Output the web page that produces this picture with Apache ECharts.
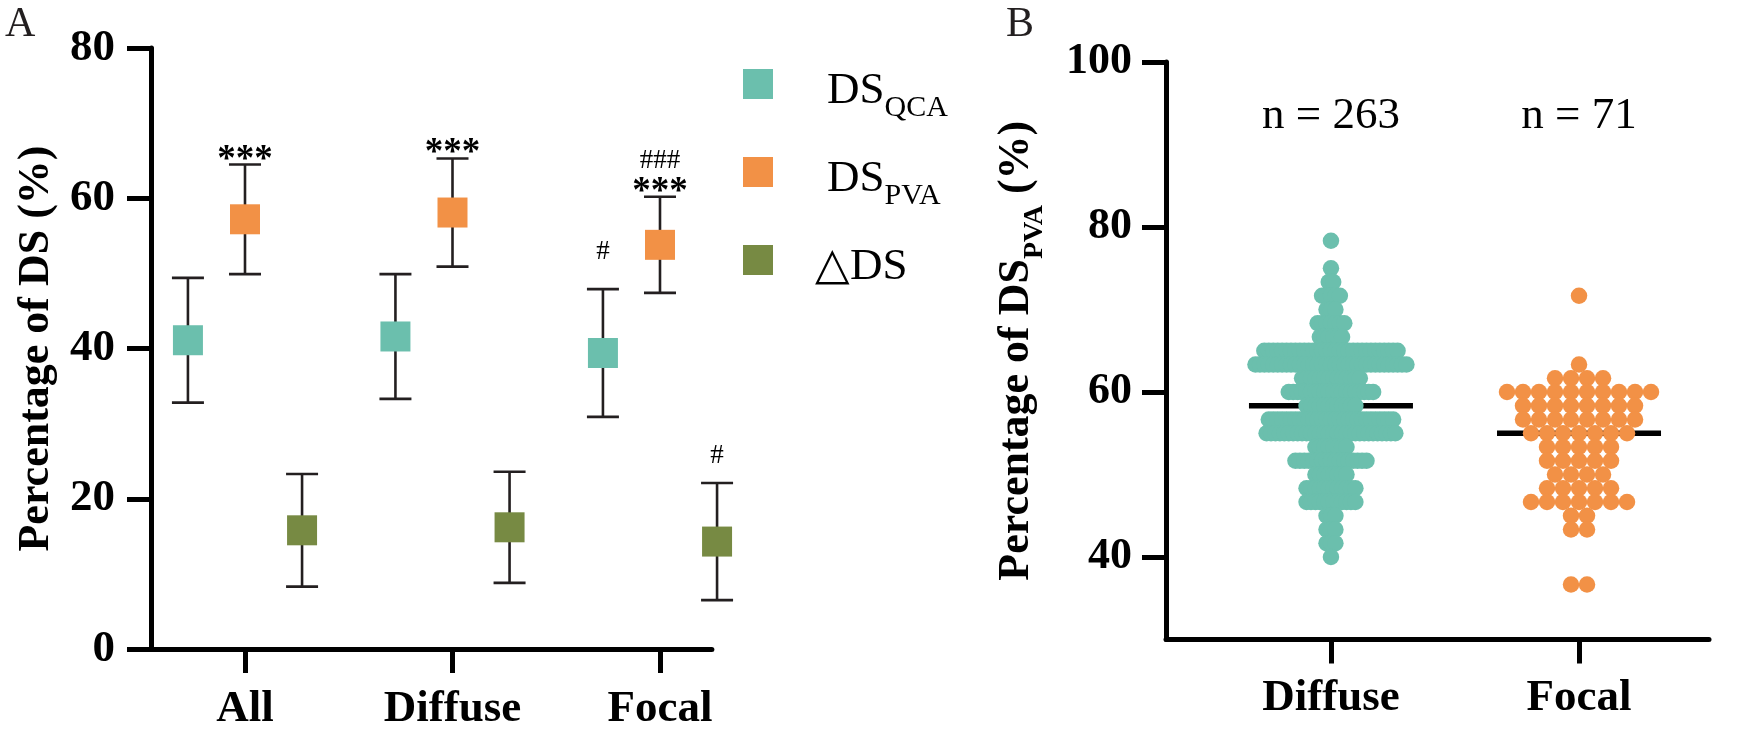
<!DOCTYPE html>
<html>
<head>
<meta charset="utf-8">
<script src="https://cdn.jsdelivr.net/npm/echarts@6/dist/echarts.min.js"></script>
<style>
html,body{margin:0;padding:0;background:#fff;}
#chart{width:1748px;height:732px;}
</style>
</head>
<body>
<div id="chart"></div>
<script>
// ---------- Panel A data (mean ± SD, %) ----------
const categoriesA = ['All', 'Diffuse', 'Focal'];
const qcaMean = [41.1, 41.6, 39.4];
const qcaSD   = [8.3, 8.3, 8.5];
const pvaMean = [57.2, 58.1, 53.8];
const pvaSD   = [7.3, 7.2, 6.4];
const dMean   = [15.8, 16.2, 14.3];
const dSD     = [7.5, 7.4, 7.8];
const pvaStars = ['***', '***', '***'];
const pvaHash  = ['', '', '###'];
const qcaHash  = ['', '', '#'];
const dHash    = ['', '', '#'];
const yTicksA  = [0, 20, 40, 60, 80];

// ---------- Panel B data (DS_PVA %, value levels and number of lesions at each) ----------
const categoriesB = ['Diffuse', 'Focal'];
const levelsDiffuse = [78.33, 75.00, 73.33, 71.67, 70.00, 68.33, 66.67, 65.00, 63.33, 61.67, 60.00, 58.33, 56.67, 55.00, 53.33, 51.67, 50.00, 48.33, 46.67, 45.00, 43.33, 41.67, 40.00];
const countsDiffuse = [1, 1, 2, 5, 3, 7, 6, 31, 35, 14, 20, 12, 29, 30, 8, 17, 8, 12, 12, 3, 3, 3, 1];
const levelsFocal = [71.67, 63.33, 61.67, 60.00, 58.33, 56.67, 55.00, 53.33, 51.67, 50.00, 48.33, 46.67, 45.00, 43.33, 36.67];
const countsFocal = [1, 1, 4, 10, 8, 8, 7, 5, 5, 4, 5, 7, 2, 2, 2];
const yTicksB = [40, 60, 80, 100];

// ---------- styling ----------
const FONT = 'Liberation Serif, Times New Roman, serif';
const C_QCA = '#6bbfad', C_PVA = '#f29146', C_D = '#778a43';
const BAR = '#231f20';

// Panel A layout (x value axis: category index)
const axA = {min: -0.453, max: 2.25};
const gridA = {left: 151, top: 48, bottom: 82};
const unitA = 207.5;
const offA = 0.275;
// Panel B layout
const axB = {min: 0.335, max: 2.524};
const gridB = {left: 1166, right: 39, top: 62, bottom: 92.5};
const unitB = (1748 - gridB.left - gridB.right) / (axB.max - axB.min);
const spacingDiffusePx = 4.44, spacingFocalPx = 16;

function swarm(levels, counts, cat, spacingPx) {
  const pts = [];
  levels.forEach((v, i) => {
    const n = counts[i];
    for (let j = 0; j < n; j++) {
      pts.push([cat + (j - (n - 1) / 2) * spacingPx / unitB, v]);
    }
  });
  return pts;
}
function median(levels, counts) {
  const vals = [];
  levels.forEach((v, i) => { for (let j = 0; j < counts[i]; j++) vals.push(v); });
  vals.sort((a, b) => a - b);
  const n = vals.length;
  return n % 2 ? vals[(n - 1) / 2] : (vals[n / 2 - 1] + vals[n / 2]) / 2;
}
const sum = a => a.reduce((s, x) => s + x, 0);

function pointData(means, off) { return means.map((m, i) => [i + off, m]); }
function errData(means, sds, off) { return means.map((m, i) => [i + off, m - sds[i], m + sds[i]]); }
function annData(means, sds, texts, off) {
  return means.map((m, i) => ({value: [i + off, m + sds[i]], txt: texts[i]})).filter(d => d.txt);
}

function errRender(params, api) {
  const x = api.value(0), lo = api.value(1), hi = api.value(2);
  const pt = api.coord([x, hi]), pb = api.coord([x, lo]);
  const hw = 16;
  const st = {stroke: BAR, lineWidth: 2.6};
  return {type: 'group', children: [
    {type: 'line', shape: {x1: pt[0], y1: pt[1], x2: pb[0], y2: pb[1]}, style: st},
    {type: 'line', shape: {x1: pt[0] - hw, y1: pt[1], x2: pt[0] + hw, y2: pt[1]}, style: st},
    {type: 'line', shape: {x1: pb[0] - hw, y1: pb[1], x2: pb[0] + hw, y2: pb[1]}, style: st}
  ]};
}
function medRender(params, api) {
  const p = api.coord([api.value(0), api.value(1)]);
  return {type: 'line', shape: {x1: p[0] - 82, y1: p[1], x2: p[0] + 82, y2: p[1]},
          style: {stroke: '#000', lineWidth: 5.5}};
}

function annSeries(data, size, weight, offY) {
  return {
    type: 'scatter', xAxisIndex: 0, yAxisIndex: 0, symbolSize: 0, silent: true, z: 5, clip: false,
    itemStyle: {opacity: 1},
    data: data,
    label: {show: true, position: 'top', distance: 0, offset: [0, offY],
      formatter: p => p.data.txt, color: '#000', fontFamily: FONT, fontSize: size, fontWeight: weight}
  };
}

const axisLineStyle = {color: '#000', width: 5};
const tickStyle = {width: 5, color: '#000'};

const chart = echarts.init(document.getElementById('chart'));
const option = {
  animation: false,
  backgroundColor: '#fff',
  textStyle: {fontFamily: FONT, color: '#000'},
  graphic: [
    {type: 'text', left: 5, top: 4, style: {text: 'A', fontFamily: FONT, fontSize: 42, fill: BAR}},
    {type: 'text', left: 1006, top: 4, style: {text: 'B', fontFamily: FONT, fontSize: 42, fill: BAR}}
  ],
  legend: {
    data: ['DS_QCA', 'DS_PVA', 'ΔDS'],
    orient: 'vertical', left: 743, top: 69, padding: 0,
    itemWidth: 30, itemHeight: 30, itemGap: 34,
    icon: 'rect', selectedMode: false,
    formatter: name => name === 'ΔDS' ? '{t|△DS}{s| }' : '{m|DS}{s|' + name.slice(3) + '}',
    textStyle: {color: '#000', fontFamily: FONT,
      rich: {
        m: {fontFamily: FONT, fontSize: 45, lineHeight: 30, padding: [0, 0, 0, 49], verticalAlign: 'top', color: '#000'},
        t: {fontFamily: FONT, fontSize: 45, lineHeight: 30, padding: [0, 0, 0, 37], verticalAlign: 'top', color: '#000'},
        s: {fontFamily: FONT, fontSize: 30, lineHeight: 24, padding: [24, 0, 0, 0], verticalAlign: 'top', color: '#000'}
      }}
  },
  grid: [
    {left: gridA.left, top: gridA.top, bottom: gridA.bottom, width: unitA * (axA.max - axA.min)},
    {left: gridB.left, right: gridB.right, top: gridB.top, bottom: gridB.bottom}
  ],
  xAxis: [
    {gridIndex: 0, type: 'value', min: axA.min, max: axA.max,
      axisLine: {onZero: false, lineStyle: axisLineStyle},
      axisTick: {show: true, customValues: [0, 1, 2], length: 24, lineStyle: tickStyle},
      axisLabel: {customValues: [0, 1, 2], formatter: v => categoriesA[Math.round(v)], margin: 38,
        fontFamily: FONT, fontSize: 45, fontWeight: 'bold', color: '#000'},
      splitLine: {show: false}},
    {gridIndex: 1, type: 'value', min: axB.min, max: axB.max,
      axisLine: {onZero: false, lineStyle: axisLineStyle},
      axisTick: {show: true, customValues: [1, 2], length: 24, lineStyle: tickStyle},
      axisLabel: {customValues: [1, 2], formatter: v => categoriesB[Math.round(v) - 1], margin: 36,
        fontFamily: FONT, fontSize: 45, fontWeight: 'bold', color: '#000'},
      splitLine: {show: false}}
  ],
  yAxis: [
    {gridIndex: 0, type: 'value', min: 0, max: 80, interval: 20,
      name: 'Percentage of DS (%)', nameLocation: 'middle', nameGap: 92,
      nameTextStyle: {fontFamily: FONT, fontSize: 44, fontWeight: 'bold', color: '#000'},
      axisLine: {show: true, onZero: false, lineStyle: axisLineStyle},
      axisTick: {show: true, customValues: yTicksA, length: 24, lineStyle: tickStyle},
      axisLabel: {customValues: yTicksA, margin: 36, fontFamily: FONT, fontSize: 45, fontWeight: 'bold', color: '#000'},
      splitLine: {show: false}},
    {gridIndex: 1, type: 'value', min: 30, max: 100,
      name: '{b|Percentage of DS}{s|PVA}{b| (%)}', nameLocation: 'middle', nameGap: 126,
      nameTextStyle: {fontFamily: FONT, color: '#000',
        rich: {
          b: {fontFamily: FONT, fontSize: 44, fontWeight: 'bold', lineHeight: 45, verticalAlign: 'top', color: '#000'},
          s: {fontFamily: FONT, fontSize: 28, fontWeight: 'bold', lineHeight: 27, padding: [26, 0, 0, 0], verticalAlign: 'top', color: '#000'}
        }},
      axisLine: {show: true, onZero: false, lineStyle: axisLineStyle},
      axisTick: {show: true, customValues: yTicksB, length: 24, lineStyle: tickStyle},
      axisLabel: {customValues: yTicksB, margin: 34, fontFamily: FONT, fontSize: 44, fontWeight: 'bold', color: '#000'},
      splitLine: {show: false}}
  ],
  series: [
    // Panel A error bars
    {type: 'custom', name: 'errQCA', xAxisIndex: 0, yAxisIndex: 0, renderItem: errRender, encode: {x: 0, y: [1, 2]}, data: errData(qcaMean, qcaSD, -offA), z: 2, silent: true, clip: false},
    {type: 'custom', name: 'errPVA', xAxisIndex: 0, yAxisIndex: 0, renderItem: errRender, encode: {x: 0, y: [1, 2]}, data: errData(pvaMean, pvaSD, 0), z: 2, silent: true, clip: false},
    {type: 'custom', name: 'errD', xAxisIndex: 0, yAxisIndex: 0, renderItem: errRender, encode: {x: 0, y: [1, 2]}, data: errData(dMean, dSD, offA), z: 2, silent: true, clip: false},
    // Panel A means
    {type: 'scatter', name: 'DS_QCA', xAxisIndex: 0, yAxisIndex: 0, symbol: 'rect', symbolSize: [30, 30], itemStyle: {color: C_QCA, opacity: 1}, data: pointData(qcaMean, -offA), z: 3, clip: false},
    {type: 'scatter', name: 'DS_PVA', xAxisIndex: 0, yAxisIndex: 0, symbol: 'rect', symbolSize: [30, 30], itemStyle: {color: C_PVA, opacity: 1}, data: pointData(pvaMean, 0), z: 3, clip: false},
    {type: 'scatter', name: 'ΔDS', xAxisIndex: 0, yAxisIndex: 0, symbol: 'rect', symbolSize: [30, 30], itemStyle: {color: C_D, opacity: 1}, data: pointData(dMean, offA), z: 3, clip: false},
    // Panel A significance marks
    annSeries(annData(pvaMean, pvaSD, pvaStars, 0), 37, 'bold', 14),
    annSeries(annData(pvaMean, pvaSD, pvaHash, 0), 27, 'normal', -22),
    annSeries(annData(qcaMean, qcaSD, qcaHash, -offA), 27, 'normal', -24),
    annSeries(annData(dMean, dSD, dHash, offA), 27, 'normal', -14),
    // Panel B median lines
    {type: 'custom', name: 'median', xAxisIndex: 1, yAxisIndex: 1, renderItem: medRender, encode: {x: 0, y: 1},
      data: [[1, median(levelsDiffuse, countsDiffuse)], [2, median(levelsFocal, countsFocal)]], z: 2, silent: true},
    // Panel B swarms
    {type: 'scatter', name: 'Diffuse', xAxisIndex: 1, yAxisIndex: 1, symbolSize: 16.5, itemStyle: {color: C_QCA, opacity: 1},
      data: swarm(levelsDiffuse, countsDiffuse, 1, spacingDiffusePx), z: 3},
    {type: 'scatter', name: 'Focal', xAxisIndex: 1, yAxisIndex: 1, symbolSize: 16.5, itemStyle: {color: C_PVA, opacity: 1},
      data: swarm(levelsFocal, countsFocal, 2, spacingFocalPx), z: 3},
    // n labels
    {type: 'scatter', name: 'nLabels', xAxisIndex: 1, yAxisIndex: 1, symbolSize: 0, silent: true,
      itemStyle: {opacity: 1},
      data: [{value: [1, 93.45], n: sum(countsDiffuse)}, {value: [2, 93.45], n: sum(countsFocal)}],
      label: {show: true, position: 'inside', formatter: p => 'n = ' + p.data.n, color: '#000', textBorderWidth: 0, fontFamily: FONT, fontSize: 45}}
  ]
};
chart.setOption(option);
</script>
</body>
</html>
